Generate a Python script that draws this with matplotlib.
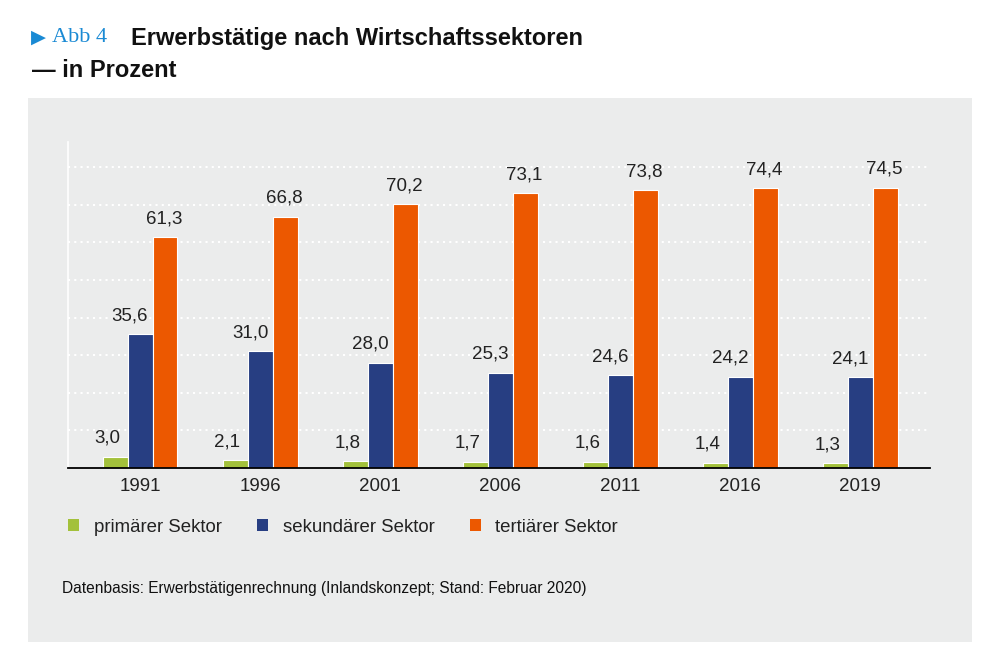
import numpy as np
import matplotlib.pyplot as plt
from matplotlib.patches import Rectangle, Patch

years = ["1991", "1996", "2001", "2006", "2011", "2016", "2019"]
primaer = [3.0, 2.1, 1.8, 1.7, 1.6, 1.4, 1.3]
sekundaer = [35.6, 31.0, 28.0, 25.3, 24.6, 24.2, 24.1]
tertiaer = [61.3, 66.8, 70.2, 73.1, 73.8, 74.4, 74.5]
series_names = ["primärer Sektor", "sekundärer Sektor", "tertiärer Sektor"]
colors = ["#a3c13b", "#273e82", "#ec5800"]

plt.rcParams['font.family'] = ['Liberation Sans', 'DejaVu Sans']

fig = plt.figure(figsize=(10, 6.7), dpi=100)
fig.patch.set_facecolor("white")

# grey panel behind the chart
fig.patches.append(Rectangle((0.028, 0.0418), 0.944, 0.812, transform=fig.transFigure,
                             facecolor="#ebecec", edgecolor="none", zorder=-5))

ax = fig.add_axes([0.068, 0.3015, 0.862, 0.4866])
ax.set_facecolor("none")

x = np.arange(len(years))
w = 0.208
data = [primaer, sekundaer, tertiaer]
offsets = [-w, 0, w]
label_dx = [-8, -10, -1]  # pixel shift of the value labels

for vals, off, col, dx in zip(data, offsets, colors, label_dx):
    bars = ax.bar(x + off, vals, width=w, color=col, edgecolor="white", linewidth=0.8, zorder=3)
    for b, v in zip(bars, vals):
        ax.annotate(f"{v:.1f}".replace(".", ","),
                    (b.get_x() + b.get_width() / 2, v),
                    xytext=(dx, 10), textcoords="offset pixels",
                    ha="center", va="bottom", fontsize=13.5, color="#222222", zorder=4)

ax.set_xlim(-0.6, 6.58)
ax.set_ylim(0, 86.7)
ax.set_yticks(np.arange(10, 90, 10))
ax.yaxis.grid(True, color="white", linestyle=(0, (1, 2)), linewidth=1.5)
ax.set_axisbelow(True)
ax.tick_params(axis="y", left=False, labelleft=False)
ax.tick_params(axis="x", length=0, labelsize=13.5, pad=7, labelcolor="#222222")
ax.set_xticks(x)
ax.set_xticklabels(years)

for s in ["top", "right"]:
    ax.spines[s].set_visible(False)
ax.spines["left"].set_color("white")
ax.spines["left"].set_linewidth(1.2)
ax.spines["bottom"].set_color("black")
ax.spines["bottom"].set_linewidth(1.3)
ax.spines["bottom"].set_zorder(5)

handles = [Patch(facecolor=c, edgecolor="none") for c in colors]
fig.legend(handles, series_names, loc="center left", bbox_to_anchor=(0.068, 0.2134),
           ncol=3, frameon=False, fontsize=13.4, handlelength=0.6, handleheight=0.6,
           handletextpad=0.78, columnspacing=1.9, borderpad=0, borderaxespad=0,
           labelcolor="#222222")

# title
fig.text(0.031, 0.944, "\u25B6", color="#1a8ad4", fontsize=14, va="center", ha="left",
         family=["DejaVu Sans"])
fig.text(0.052, 0.944, "Abb 4", color="#1a8ad4", fontsize=16, va="center", ha="left",
         family=["Liberation Serif"])
fig.text(0.131, 0.943, "Erwerbstätige nach Wirtschaftssektoren", color="#111111",
         fontsize=17, va="center", ha="left", fontweight="bold")
fig.text(0.032, 0.895, "— in Prozent", color="#111111", fontsize=17, va="center",
         ha="left", fontweight="bold")

fig.text(0.062, 0.121, "Datenbasis: Erwerbstätigenrechnung (Inlandskonzept; Stand: Februar 2020)",
         fontsize=11.2, color="#111111", va="center", ha="left")

fig.savefig("out.png", dpi=100)
